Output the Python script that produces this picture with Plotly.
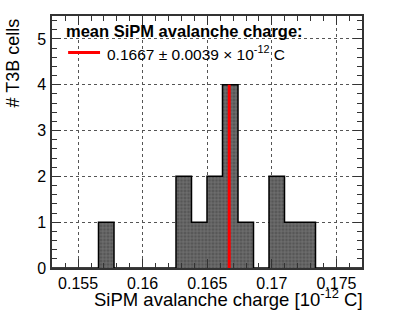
import plotly.graph_objects as go

# Data
bin_start = 0.15298
bin_width = 0.0012
counts = [0, 0, 0, 1, 0, 0, 0, 0, 2, 1, 2, 4, 1, 0, 2, 1, 1, 0, 0, 0]
mean_val = 0.1667
mean_err = 0.0039
x_tickvals = [0.155, 0.16, 0.165, 0.17, 0.175]
x_ticktext = ["0.155", "0.16", "0.165", "0.17", "0.175"]
y_tickvals = [0, 1, 2, 3, 4, 5]

edges = [bin_start + i * bin_width for i in range(len(counts) + 1)]
centers = [bin_start + (i + 0.5) * bin_width for i in range(len(counts))]

FONT = "Liberation Sans, Arial, sans-serif"

fig = go.Figure()
fig.add_trace(go.Bar(
    x=centers, y=counts, width=[bin_width] * len(counts),
    marker=dict(color="#565656", line=dict(width=0),
                pattern=dict(shape="+", bgcolor="#565656", fgcolor="#9c9c9c",
                             size=3.5, solidity=0.35)),
    showlegend=False,
))
# outline step
sx, sy = [], []
for i, c in enumerate(counts):
    sx += [edges[i], edges[i + 1]]
    sy += [c, c]
sx = [edges[0]] + sx + [edges[-1]]
sy = [0] + sy + [0]
fig.add_trace(go.Scatter(x=sx, y=sy, mode="lines", line=dict(color="black", width=1.5),
                         showlegend=False, hoverinfo="skip"))
fig.add_trace(go.Scatter(x=[mean_val, mean_val], y=[0, max(counts)], mode="lines",
                         line=dict(color="#ff0000", width=3), showlegend=False))

fig.update_layout(
    width=407, height=312,
    margin=dict(l=52, r=45, t=16, b=44),
    paper_bgcolor="white", plot_bgcolor="white",
    bargap=0,
    font=dict(family=FONT, size=16, color="black"),
)
fig.update_xaxes(
    range=[edges[0], edges[-1]],
    tickvals=x_tickvals, ticktext=x_ticktext,
    ticks="inside", ticklen=9, tickcolor="#333", tickwidth=1,
    minor=dict(dtick=0.001, tick0=0.155, ticks="inside", ticklen=5, tickcolor="#333", showgrid=False),
    showline=True, linecolor="#333", linewidth=1.5, mirror="allticks",
    showgrid=True, gridcolor="#555", griddash="dot", gridwidth=1,
    zeroline=False, tickfont=dict(size=16),
)
fig.update_yaxes(
    range=[0, 5.5],
    tickvals=y_tickvals,
    ticks="inside", ticklen=9, tickcolor="#333", tickwidth=1,
    minor=dict(dtick=0.2, tick0=0, ticks="inside", ticklen=5, tickcolor="#333", showgrid=False),
    showline=True, linecolor="#333", linewidth=1.5, mirror="allticks",
    showgrid=True, gridcolor="#555", griddash="dot", gridwidth=1,
    zeroline=False, tickfont=dict(size=16), ticklabelstandoff=1,
)

fig.add_annotation(text="SiPM avalanche charge [10<sup>-12</sup> C]", xref="paper", yref="paper",
                   x=1.0, y=-0.17, xanchor="right", yanchor="bottom", showarrow=False,
                   font=dict(size=18.5), xshift=2, borderpad=0)
fig.add_annotation(text="# T3B cells", xref="paper", yref="paper",
                   x=-0.126, y=1.0, xanchor="center", yanchor="top", textangle=-90, showarrow=False,
                   font=dict(size=18))
fig.add_annotation(text="<b>mean SiPM avalanche charge:</b>", xref="paper", yref="paper",
                   x=0.04, y=0.94, xanchor="left", yanchor="middle", showarrow=False,
                   font=dict(size=16.5))
fig.add_annotation(text=f"{mean_val:.4f} \u00b1 {mean_err:.4f} \u00d7 10<sup>-12</sup> C", xref="paper", yref="paper",
                   x=0.172, y=0.855, xanchor="left", yanchor="middle", showarrow=False,
                   font=dict(size=15.5))
fig.add_shape(type="line", xref="paper", yref="paper", x0=0.052, x1=0.155, y0=0.855, y1=0.855,
              line=dict(color="#ff0000", width=3))

fig.write_html("out.html", config={"displayModeBar": False},
               post_script="document.body.style.margin='0';")
